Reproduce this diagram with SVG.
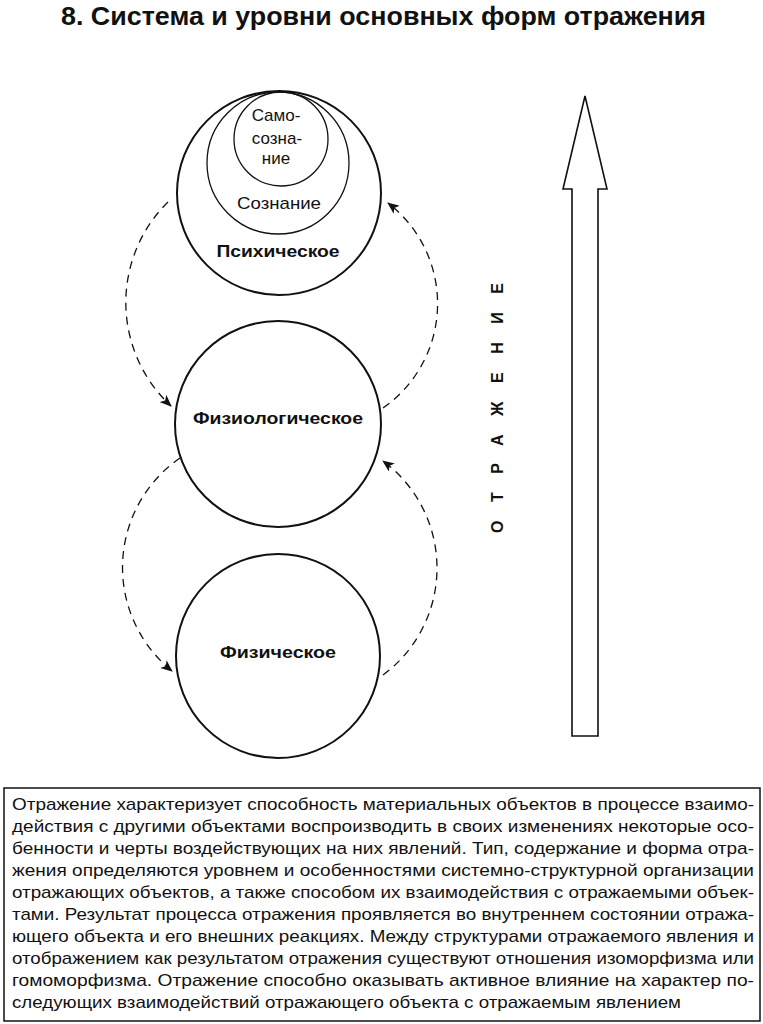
<svg xmlns="http://www.w3.org/2000/svg" width="763" height="1024" viewBox="0 0 763 1024">
<defs>
<marker id="ah" viewBox="0 0 12 10" refX="11" refY="5" markerWidth="12" markerHeight="10" markerUnits="userSpaceOnUse" orient="auto">
<path d="M0,0 L12,5 L0,10 L3,5 Z" fill="#111"/>
</marker>
<style>
.t{font-family:"Liberation Sans",Arial,sans-serif;fill:#111}
.b{font-weight:bold}
.big{fill:#fff;stroke:#111;stroke-width:2}
.thin{fill:none;stroke:#111;stroke-width:1.3}
.dash{fill:none;stroke:#111;stroke-width:1.3;stroke-dasharray:8 6}
.p{font-size:17px}
</style>
</defs>
<rect width="763" height="1024" fill="#fff"/>
<text class="t b" x="61" y="25" font-size="26" textLength="645" lengthAdjust="spacingAndGlyphs">8. Система и уровни основных форм отражения</text>

<g id="psych">
<circle class="big" cx="279" cy="193" r="102"/>
<circle class="thin" cx="278" cy="163" r="71"/>
<circle class="thin" cx="281" cy="139" r="47"/>
<text class="t" font-size="17" x="276" y="121" text-anchor="middle">Само-</text>
<text class="t" font-size="17" x="277" y="144" text-anchor="middle">созна-</text>
<text class="t" font-size="17" x="276" y="164" text-anchor="middle">ние</text>
<text class="t" font-size="17" x="279" y="209" text-anchor="middle" textLength="84" lengthAdjust="spacingAndGlyphs">Сознание</text>
<text class="t b" font-size="16" x="278" y="257" text-anchor="middle" textLength="123" lengthAdjust="spacingAndGlyphs">Психическое</text>
</g>

<g id="physio">
<circle class="big" cx="278" cy="424" r="103"/>
<text class="t b" font-size="16" x="278" y="424" text-anchor="middle" textLength="170" lengthAdjust="spacingAndGlyphs">Физиологическое</text>
</g>

<g id="phys">
<circle class="big" cx="278" cy="656" r="102"/>
<text class="t b" font-size="16" x="278" y="658" text-anchor="middle" textLength="116" lengthAdjust="spacingAndGlyphs">Физическое</text>
</g>

<g id="connectors">
<path class="dash" d="M168,202 A141,141 0 0 0 171,406" marker-end="url(#ah)"/>
<path class="dash" d="M383,408 A127,127 0 0 0 388,203" marker-end="url(#ah)"/>
<path class="dash" d="M180,458 A133,133 0 0 0 172,671" marker-end="url(#ah)"/>
<path class="dash" d="M383,675 A133,133 0 0 0 383,461" marker-end="url(#ah)"/>
</g>

<g id="arrow">
<polygon points="585,96 607,189 598,189 598,736 572,736 572,189 563,189" fill="#fff" stroke="#111" stroke-width="1.6" stroke-linejoin="miter"/>
<text class="t b" font-size="16" transform="translate(503,408) rotate(-90)" x="0" y="0" text-anchor="middle" textLength="250" lengthAdjust="spacing">ОТРАЖЕНИЕ</text>
</g>

<g id="note">
<rect x="4" y="788" width="756" height="233" fill="none" stroke="#111" stroke-width="1.5"/>
<text class="t p" x="12" y="810" textLength="742" lengthAdjust="spacingAndGlyphs">Отражение характеризует способность материальных объектов в процессе взаимо-</text>
<text class="t p" x="12" y="832" textLength="742" lengthAdjust="spacingAndGlyphs">действия с другими объектами воспроизводить в своих изменениях некоторые осо-</text>
<text class="t p" x="12" y="854" textLength="742" lengthAdjust="spacingAndGlyphs">бенности и черты воздействующих на них явлений. Тип, содержание и форма отра-</text>
<text class="t p" x="12" y="876" textLength="742" lengthAdjust="spacingAndGlyphs">жения определяются уровнем и особенностями системно-структурной организации</text>
<text class="t p" x="12" y="898" textLength="742" lengthAdjust="spacingAndGlyphs">отражающих объектов, а также способом их взаимодействия с отражаемыми объек-</text>
<text class="t p" x="12" y="920" textLength="742" lengthAdjust="spacingAndGlyphs">тами. Результат процесса отражения проявляется во внутреннем состоянии отража-</text>
<text class="t p" x="12" y="942" textLength="742" lengthAdjust="spacingAndGlyphs">ющего объекта и его внешних реакциях. Между структурами отражаемого явления и</text>
<text class="t p" x="12" y="964" textLength="742" lengthAdjust="spacingAndGlyphs">отображением как результатом отражения существуют отношения изоморфизма или</text>
<text class="t p" x="12" y="986" textLength="742" lengthAdjust="spacingAndGlyphs">гомоморфизма. Отражение способно оказывать активное влияние на характер по-</text>
<text class="t p" x="12" y="1008" textLength="669" lengthAdjust="spacingAndGlyphs">следующих взаимодействий отражающего объекта с отражаемым явлением</text>
</g>
</svg>
